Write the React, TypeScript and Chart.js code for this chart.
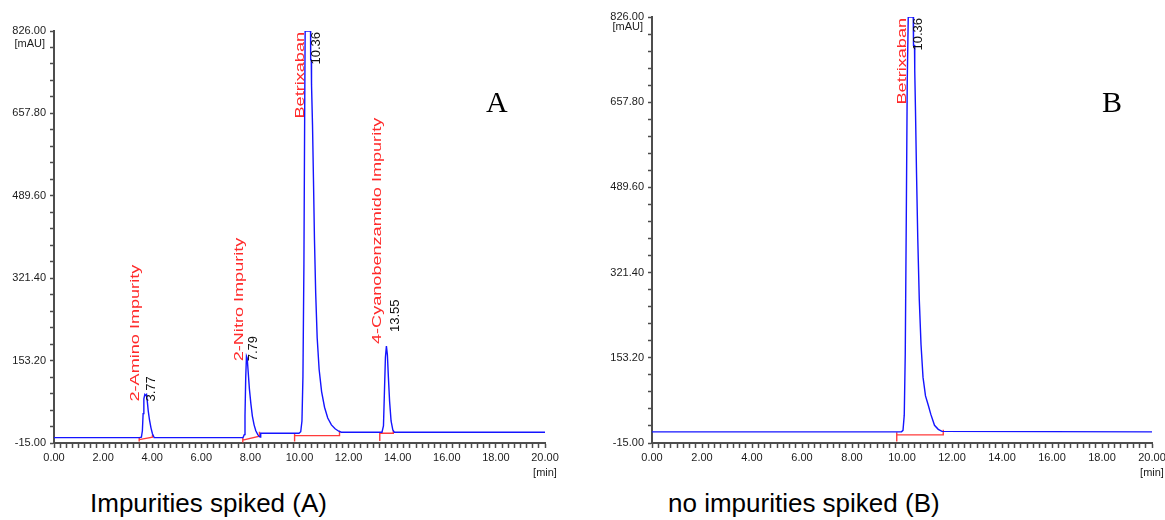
import React, { useEffect, useRef } from 'react';
import { Chart, registerables } from 'chart.js';

Chart.register(...registerables);

// ---------- data ----------
const timeTickLabels = ['0.00', '2.00', '4.00', '6.00', '8.00', '10.00', '12.00', '14.00', '16.00', '18.00', '20.00'];
const signalTickLabels = ['-15.00', '153.20', '321.40', '489.60', '657.80', '826.00'];

// Chromatogram A (impurities spiked)
const traceATime = [
  0, 3.48, 3.56, 3.6, 3.63, 3.66, 3.7, 3.74, 3.77, 3.8, 3.84, 3.89, 3.95, 4.01, 4.08,
  7.7, 7.75, 7.78, 7.81, 7.84, 7.87, 7.91, 7.96, 8.02, 8.08, 8.15, 8.22, 8.3, 8.37, 8.41, 8.42,
  9.98, 10.05, 10.1, 10.14, 10.18, 10.21, 10.23, 10.45, 10.455, 10.48, 10.49, 10.53, 10.57, 10.61,
  10.66, 10.72, 10.8, 10.9, 11.02, 11.15, 11.3, 11.45, 11.6, 11.7,
  13.36, 13.42, 13.46, 13.5, 13.54, 13.58, 13.62, 13.67, 13.73, 13.8, 13.86, 20,
];
const traceAValue = [
  -4, -4, -3, 10, 45, 75, 84, 82, 84, 70, 50, 32, 16, 4, -4,
  -4, 2, 40, 120, 162, 158, 130, 95, 65, 40, 22, 10, 2, -2, -3, 5,
  5, 8, 30, 120, 350, 650, 826, 826, 767, 767, 716, 634, 520, 400,
  290, 200, 135, 90, 58, 36, 22, 14, 9, 7,
  7, 20, 90, 160, 183, 165, 120, 70, 30, 12, 7, 7,
];
const peakANames = ['2-Amino Impurity', '2-Nitro Impurity', 'Betrixaban', '4-Cyanobenzamido Impurity'];
const peakATimes = [3.77, 7.79, 10.36, 13.55];
const peakAHeights = [84, 162, 826, 183];
// integration baseline marks (null = gap)
const markATime = [3.47, 3.47, null, 3.47, 4.01, 4.01, null, 7.69, 7.69, null, 7.69, 8.37, 8.37, null,
  9.8, 9.8, null, 9.8, 11.63, 11.63, null, 13.27, 13.27, null, 13.27, 13.82, 13.82];
const markAValue = [-4, -12, null, -8, -3, 2, null, -5, -14, null, -9, -1, 8, null,
  5, -12, null, 0, 0, 10, null, 7, -11, null, 5, 5, 11];

// Chromatogram B (no impurities spiked)
const traceBTime = [
  0, 9.98, 10.04, 10.09, 10.13, 10.17, 10.21, 10.25, 10.45, 10.46, 10.5, 10.51, 10.54, 10.58,
  10.63, 10.69, 10.76, 10.84, 10.94, 11.06, 11.15, 11.3, 11.45, 11.6, 20,
];
const traceBValue = [
  7, 7, 10, 40, 160, 420, 700, 826, 826, 770, 770, 720, 640, 520,
  390, 270, 180, 115, 78, 58, 42, 20, 12, 8, 7,
];
const peakBNames = ['Betrixaban'];
const peakBTimes = [10.36];
const peakBHeights = [826];
const markBTime = [9.79, 9.79, null, 9.79, 11.65, 11.65];
const markBValue = [6, -12, null, 1, 1, 11];

// ---------- styling ----------
const FONT = '"Liberation Sans", Arial, sans-serif';
const AXIS_COLOR = '#4d4d4d';
const TEXT_COLOR = '#1c1c1c';
const TRACE_COLOR = '#1414ff';
const MARK_COLOR = '#ff3b3b';
const NAME_COLOR = '#ff2a2a';

type Cfg = {
  width: number;
  height: number;
  padding: { left: number; right: number; top: number; bottom: number };
  yWidth: number;
  times: number[];
  values: number[];
  markT: (number | null)[];
  markV: (number | null)[];
  names: string[];
  pTimes: number[];
  pHeights: number[];
  // [name dy, time dy, name dx, time dx]
  labelShift: number[][];
  unitDy: number;
};

const xMajor = timeTickLabels.map(Number);
const yMajor = signalTickLabels.map(Number);

function buildChart(canvas: HTMLCanvasElement, cfg: Cfg) {
  const line = cfg.times.map((t, i) => ({ x: t, y: cfg.values[i] }));
  const marks = cfg.markT.map((t, i) => ({ x: t, y: cfg.markV[i] }));

  const labelPlugin = {
    id: 'peakLabels',
    afterDatasetsDraw(chart: any) {
      const ctx = chart.ctx as CanvasRenderingContext2D;
      const xs = chart.scales.x;
      const ys = chart.scales.y;
      const area = chart.chartArea;
      ctx.save();
      // unit labels
      ctx.fillStyle = TEXT_COLOR;
      ctx.font = `11px ${FONT}`;
      ctx.textAlign = 'right';
      ctx.textBaseline = 'middle';
      ctx.fillText('[mAU]', area.left - 9, area.top + cfg.unitDy);
      ctx.textAlign = 'center';
      ctx.textBaseline = 'top';
      ctx.fillText('[min]', area.right, area.bottom + 24);

      cfg.names.forEach((name, i) => {
        const px = xs.getPixelForValue(cfg.pTimes[i]);
        const py = ys.getPixelForValue(cfg.pHeights[i]);
        const [ndy, tdy, ndx, tdx] = cfg.labelShift[i];
        // peak name (red, rotated, stretched)
        ctx.font = `13.5px ${FONT}`;
        const stretch = 1.34;
        const nameLen = ctx.measureText(name).width * stretch;
        let nb = py + ndy;
        if (nb - nameLen < area.top + 1) nb = area.top + 1 + nameLen;
        ctx.save();
        ctx.translate(px + ndx, nb);
        ctx.rotate(-Math.PI / 2);
        ctx.scale(stretch, 1);
        ctx.fillStyle = NAME_COLOR;
        ctx.textAlign = 'left';
        ctx.textBaseline = 'middle';
        ctx.fillText(name, 0, 0);
        ctx.restore();
        // retention time (black, rotated)
        const rt = cfg.pTimes[i].toFixed(2);
        ctx.font = `13px ${FONT}`;
        const rtLen = ctx.measureText(rt).width;
        let tb = py + tdy;
        if (tb - rtLen < area.top + 1) tb = area.top + 1 + rtLen;
        ctx.save();
        ctx.translate(px + tdx, tb);
        ctx.rotate(-Math.PI / 2);
        ctx.fillStyle = '#111';
        ctx.textAlign = 'left';
        ctx.textBaseline = 'middle';
        ctx.fillText(rt, 0, 0);
        ctx.restore();
      });
      ctx.restore();
    },
  };

  return new Chart(canvas, {
    type: 'line',
    data: {
      datasets: [
        {
          data: line,
          borderColor: TRACE_COLOR,
          borderWidth: 1.4,
          pointRadius: 0,
          tension: 0,
          fill: false,
        },
        {
          data: marks as any,
          borderColor: MARK_COLOR,
          borderWidth: 1.4,
          pointRadius: 0,
          tension: 0,
          fill: false,
          spanGaps: false,
        },
      ],
    },
    options: {
      animation: false,
      responsive: false,
      maintainAspectRatio: false,
      events: [],
      layout: { padding: cfg.padding },
      plugins: { legend: { display: false }, tooltip: { enabled: false } },
      scales: {
        x: {
          type: 'linear',
          min: 0,
          max: 20,
          afterBuildTicks: (s: any) => {
            const t: any[] = [];
            for (let k = 0; k < xMajor.length - 1; k++) {
              for (let j = 0; j < 8; j++) t.push({ value: xMajor[k] + ((xMajor[k + 1] - xMajor[k]) * j) / 8 });
            }
            t.push({ value: xMajor[xMajor.length - 1] });
            s.ticks = t;
          },
          afterFit: (s: any) => {
            s.height = 30;
            s.paddingLeft = 0;
            s.paddingRight = 0;
          },
          ticks: {
            autoSkip: false,
            maxRotation: 0,
            minRotation: 0,
            padding: 3,
            color: TEXT_COLOR,
            font: { family: FONT, size: 11 },
            callback: (v: any) => {
              const i = xMajor.findIndex((m) => Math.abs(m - v) < 1e-6);
              return i >= 0 ? timeTickLabels[i] : '';
            },
          },
          grid: {
            drawOnChartArea: false,
            drawTicks: true,
            tickLength: 5,
            tickColor: AXIS_COLOR,
            tickWidth: 1.5,
          } as any,
          border: { display: true, color: AXIS_COLOR, width: 2 },
        },
        y: {
          type: 'linear',
          min: yMajor[0],
          max: yMajor[yMajor.length - 1],
          afterBuildTicks: (s: any) => {
            const t: any[] = [];
            for (let k = 0; k < yMajor.length - 1; k++) {
              for (let j = 0; j < 5; j++) t.push({ value: yMajor[k] + ((yMajor[k + 1] - yMajor[k]) * j) / 5 });
            }
            t.push({ value: yMajor[yMajor.length - 1] });
            s.ticks = t;
          },
          afterFit: (s: any) => {
            s.width = cfg.yWidth;
            s.paddingTop = 0;
            s.paddingBottom = 0;
          },
          ticks: {
            autoSkip: false,
            padding: 4,
            color: TEXT_COLOR,
            font: { family: FONT, size: 11 },
            callback: (v: any) => {
              const i = yMajor.findIndex((m) => Math.abs(m - v) < 1e-6);
              return i >= 0 ? signalTickLabels[i] : '';
            },
          },
          grid: {
            drawOnChartArea: false,
            drawTicks: true,
            tickLength: 4,
            tickColor: AXIS_COLOR,
            tickWidth: 1.5,
          } as any,
          border: { display: true, color: AXIS_COLOR, width: 2 },
        },
      },
    } as any,
    plugins: [labelPlugin],
  });
}

function ChromCanvas({ cfg, left }: { cfg: Cfg; left: number }) {
  const ref = useRef<HTMLCanvasElement | null>(null);
  useEffect(() => {
    if (!ref.current) return;
    const chart = buildChart(ref.current, cfg);
    return () => chart.destroy();
  }, []);
  return (
    <canvas
      ref={ref}
      width={cfg.width}
      height={cfg.height}
      style={{ position: 'absolute', left, top: 0, width: cfg.width, height: cfg.height }}
    />
  );
}

const cfgA: Cfg = {
  width: 580,
  height: 480,
  padding: { left: 0, right: 35, top: 31, bottom: 7 },
  yWidth: 54,
  times: traceATime,
  values: traceAValue,
  markT: markATime,
  markV: markAValue,
  names: peakANames,
  pTimes: peakATimes,
  pHeights: peakAHeights,
  labelShift: [[7, 7, -11.5, 5], [5, 5, -5.5, 8.5], [0, 0, -8, 8], [-2, -14, -9.5, 9]],
  unitDy: 13,
};

const cfgB: Cfg = {
  width: 575,
  height: 480,
  padding: { left: 0, right: 13, top: 17, bottom: 7 },
  yWidth: 62,
  times: traceBTime,
  values: traceBValue,
  markT: markBTime,
  markV: markBValue,
  names: peakBNames,
  pTimes: peakBTimes,
  pHeights: peakBHeights,
  labelShift: [[0, 0, -8.5, 7]],
  unitDy: 10,
};

export default function App() {
  const caption: React.CSSProperties = {
    position: 'absolute',
    top: 490,
    fontFamily: FONT,
    fontSize: 26,
    lineHeight: '26px',
    color: '#000',
    whiteSpace: 'nowrap',
  };
  const letter: React.CSSProperties = {
    position: 'absolute',
    top: 87,
    fontFamily: '"Liberation Serif", "Times New Roman", serif',
    fontSize: 30,
    lineHeight: '30px',
    color: '#000',
  };
  return (
    <div style={{ position: 'absolute', left: 0, top: 0, width: 1165, height: 520, overflow: 'hidden', background: '#fff' }}>
      <ChromCanvas cfg={cfgA} left={0} />
      <ChromCanvas cfg={cfgB} left={590} />
      <div style={{ ...letter, left: 486 }}>A</div>
      <div style={{ ...letter, left: 1102 }}>B</div>
      <div style={{ ...caption, left: 90 }}>Impurities spiked (A)</div>
      <div style={{ ...caption, left: 668 }}>no impurities spiked (B)</div>
    </div>
  );
}
